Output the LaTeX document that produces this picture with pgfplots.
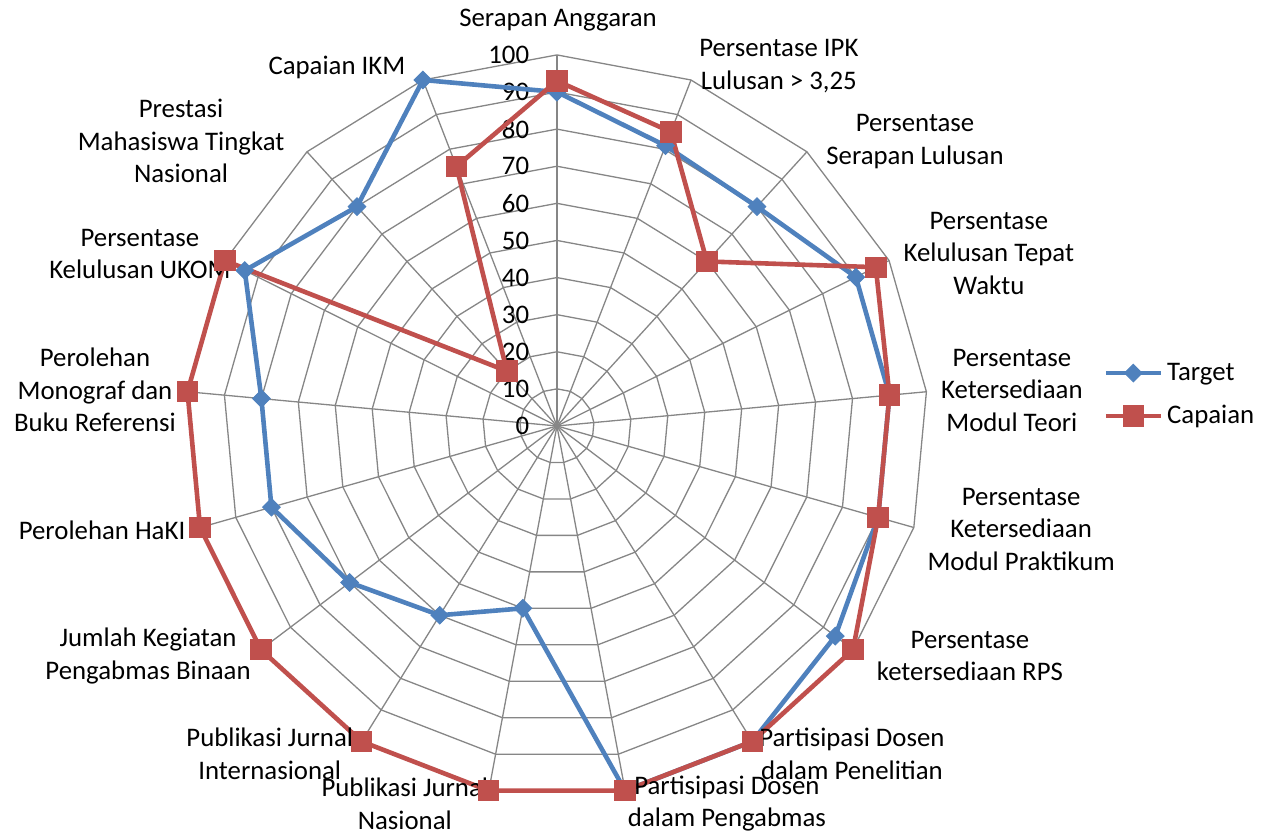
\documentclass[border=0pt]{standalone}
\usepackage{pgfplots}
\pgfplotsset{compat=1.18}
\usepackage{fontspec}
\setmainfont{Carlito}
\definecolor{tblue}{HTML}{4F81BD}
\definecolor{cred}{HTML}{C0504D}
\definecolor{gridc}{HTML}{868686}
\begin{document}
\begin{tikzpicture}[font=\fontsize{13.4}{16.2}\selectfont]
\begin{axis}[
  x=1.855pt, y=1.855pt,
  xmin=-150.1, xmax=191.9, ymin=-110.0, ymax=114.8,
  hide axis, clip=false,
  legend style={at={(axis cs:147.2,8.4)}, anchor=west, draw=none, fill=none,
    row sep=7pt, inner sep=0pt, font=\fontsize{13.4}{16.2}\selectfont},
  legend cell align=left,
  legend image code/.code={\draw[mark repeat=2,mark phase=2] plot coordinates {(0pt,0pt)(13.75pt,0pt)(27.5pt,0pt)};},
]
\coordinate (sw) at (rel axis cs:0,0);
\coordinate (ne) at (rel axis cs:1,1);
% polygon grid
\pgfplotsinvokeforeach{10,20,...,100}{
  \draw[gridc, line width=0.65pt] (axis cs:0,#1) \foreach \i in {1,...,16} { -- (axis cs:{#1*cos(90-\i*360/17)},{#1*sin(90-\i*360/17)}) } -- cycle;
}
\pgfplotsinvokeforeach{0,...,16}{
  \draw[gridc, line width=0.65pt] (axis cs:0,0) -- (axis cs:{100*cos(90-#1*360/17)},{100*sin(90-#1*360/17)});
}
% radial tick labels
\pgfplotsinvokeforeach{0,10,...,100}{
  \node[anchor=east, inner sep=0pt] at (axis cs:-7.4,#1) {#1};
}
% Target
\addplot[data cs=polar, color=tblue, line width=2.3pt, mark=square*, mark size=3.1pt,
  mark options={rotate=45, line width=0.5pt}] coordinates {
(90,90) (68.8235,81) (47.6471,80) (26.4706,90) (5.2941,90) (-15.8824,90)
(-37.0588,94) (-58.2353,100) (-79.4118,100) (-100.5882,50) (-121.7647,60)
(-142.9412,70) (-164.1176,80) (-185.2941,80) (-206.4706,94) (-227.6471,80)
(-248.8235,100) (-270,90)};
\addlegendentry{Target}
% Capaian
\addplot[data cs=polar, color=cred, line width=2.3pt, mark=square*, mark size=5.1pt,
  mark options={line width=0.5pt}] coordinates {
(90,93) (68.8235,85) (47.6471,60) (26.4706,96) (5.2941,90) (-15.8824,90)
(-37.0588,100) (-58.2353,100) (-79.4118,100) (-100.5882,100) (-121.7647,100)
(-142.9412,100) (-164.1176,100) (-185.2941,100) (-206.4706,100) (-227.6471,20)
(-248.8235,75) (-270,93)};
\addlegendentry{Capaian}
% category labels
\node[align=center] at (axis cs:0.3,109.4) {Serapan Anggaran};
\node[align=center] at (axis cs:59.8,97.0) {Persentase IPK\\Lulusan > 3,25};
\node[align=center] at (axis cs:96.5,76.7) {Persentase\\Serapan Lulusan};
\node[align=center] at (axis cs:116.4,46.5) {Persentase\\Kelulusan Tepat\\Waktu};
\node[align=center] at (axis cs:122.6,9.6) {Persentase\\Ketersediaan\\Modul Teori};
\node[align=center] at (axis cs:125.1,-27.9) {Persentase\\Ketersediaan\\Modul Praktikum};
\node[align=center] at (axis cs:111.3,-62.0) {Persentase\\ketersediaan RPS};
\node[align=center] at (axis cs:79.5,-88.4) {Partisipasi Dosen\\dalam Penelitian};
\node[align=center] at (axis cs:45.8,-101.8) {Partisipasi Dosen\\dalam Pengabmas};
\node[align=center] at (axis cs:-41.0,-101.8) {Publikasi Jurnal\\Nasional};
\node[align=center] at (axis cs:-77.4,-88.4) {Publikasi Jurnal\\Internasional};
\node[align=center] at (axis cs:-110.2,-62.0) {Jumlah Kegiatan\\Pengabmas Binaan};
\node[align=center] at (axis cs:-122.6,-28.0) {Perolehan HaKI};
\node[align=center] at (axis cs:-124.5,9.7) {Perolehan\\Monograf dan\\Buku Referensi};
\node[align=center] at (axis cs:-112.4,46.4) {Persentase\\Kelulusan UKOM};
\node[align=center] at (axis cs:-101.3,76.8) {Prestasi\\Mahasiswa Tingkat\\Nasional};
\node[align=center] at (axis cs:-59.3,96.5) {Capaian IKM};
\end{axis}
\pgfresetboundingbox
\path (sw) rectangle (ne);
\end{tikzpicture}
\end{document}
